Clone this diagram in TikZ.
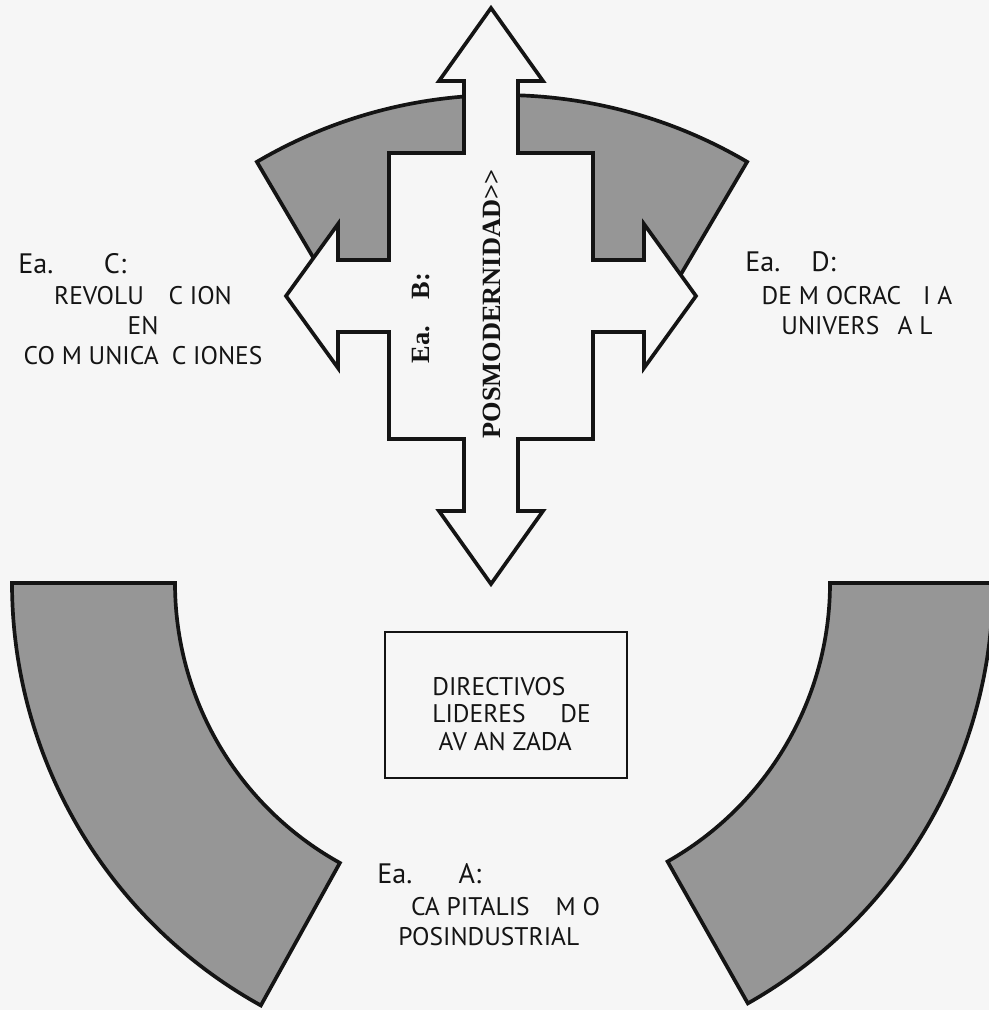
\documentclass[tikz,border=0pt]{standalone}
\usepackage{fontspec}
\setsansfont{PT Sans}
\newfontfamily\bserif{Liberation Serif}
\usepackage{tikz}
\usetikzlibrary{calc, positioning}

\definecolor{paper}{RGB}{246, 246, 246}
\definecolor{bandgray}{RGB}{150, 150, 150}
\definecolor{inkblack}{RGB}{20, 20, 20}

\begin{document}
\begin{tikzpicture}[x=0.02cm, y=-0.02cm,
  band/.style={draw=inkblack, fill=bandgray, line width=2.1pt, line join=miter},
  crossarrow/.style={draw=inkblack, fill=paper, line width=2.1pt, line join=miter},
  ealabel/.style={font=\sffamily\fontsize{16}{18}\selectfont, text=inkblack, inner sep=0pt},
  bodylabel/.style={font=\sffamily\fontsize{14.5}{17}\selectfont, text=inkblack, inner sep=0pt},
  vertlabel/.style={font=\bserif\bfseries\fontsize{15}{18}\selectfont, text=inkblack, inner sep=0pt, rotate=90}]

  % Page
  \fill[paper] (0,0) rectangle (989,1010);
  \useasboundingbox (0,0) rectangle (989,1010);

  % Upper band (behind the cross)
  \draw[band] ($(502,578)+(239.5:483)$) arc[start angle=239.5, end angle=300.5, radius=483]
    -- ($(502,578)+(300.5:320)$) arc[start angle=300.5, end angle=239.5, radius=320] -- cycle;

  % Lower bands
  \draw[band] ($(495,583)+(180:483)$) -- ($(495,583)+(180:320)$)
    arc[start angle=180, end angle=119, radius=320]
    -- ($(495,583)+(119:483)$) arc[start angle=119, end angle=180, radius=483] -- cycle;
  \draw[band] ($(510,583)+(0:320)$) -- ($(510,583)+(0:483)$)
    arc[start angle=0, end angle=60.5, radius=483]
    -- ($(510,583)+(60.5:320)$) arc[start angle=60.5, end angle=0, radius=320] -- cycle;

  % Four-way arrow
  \begin{scope}[shift={(491,296)}]
    \draw[crossarrow] (0,-288) -- (52,-215) -- (27,-215) -- (27,-143) -- (102,-143) -- (102,-36)
      -- (153,-36) -- (153,-72) -- (205,0) -- (153,72) -- (153,36) -- (102,36) -- (102,143)
      -- (27,143) -- (27,215) -- (52,215) -- (0,288) -- (-52,215) -- (-27,215) -- (-27,143)
      -- (-102,143) -- (-102,36) -- (-153,36) -- (-153,72) -- (-205,0) -- (-153,-72)
      -- (-153,-36) -- (-102,-36) -- (-102,-143) -- (-27,-143) -- (-27,-215) -- (-52,-215) -- cycle;
  \end{scope}

  % Vertical labels
  \node[vertlabel] (eaB) at (421,318) {Ea.\quad B:};
  \node[vertlabel] (posB) at (492,304) {POSMODERNIDAD>\kern0pt>};

  % Ea. C
  \node[ealabel, anchor=base west] (eaC) at (18,273) {Ea.\hspace{1.8em}C:};
  \node[bodylabel, align=center] (revC) at (143,325.5) {REVOLU\hspace{0.7em} C ION\\EN\\CO M UNICA\hspace{0.25em} C IONES};

  % Ea. D
  \node[ealabel, anchor=base west] (eaD) at (745,271) {Ea.\hspace{1.1em}D:};
  \node[bodylabel, align=center] (demD) at (857,310.5) {DE M OCRAC\hspace{0.6em} I A\\UNIVERS\hspace{0.45em} A L};

  % Directivos
  \node[draw=inkblack, line width=1.4pt, minimum width=4.84cm, minimum height=2.92cm] (box) at (506,705) {};
  \node[font=\sffamily\fontsize{14.5}{15.8}\selectfont, text=inkblack, inner sep=0pt, align=left, anchor=west] (boxtxt) at (432,714)
    {DIRECTIVOS\\LIDERES\hspace{1.1em} DE\\\hspace{0.25em}AV AN ZADA};

  % Ea. A
  \node[ealabel, anchor=base west] (eaA) at (377,883) {Ea.\hspace{1.65em}A:};
  \node[bodylabel, align=left, anchor=west] (capA) at (398,921.5) {\hspace{0.5em}CA PITALIS\hspace{0.75em} M O\\POSINDUSTRIAL};
\end{tikzpicture}
\end{document}
